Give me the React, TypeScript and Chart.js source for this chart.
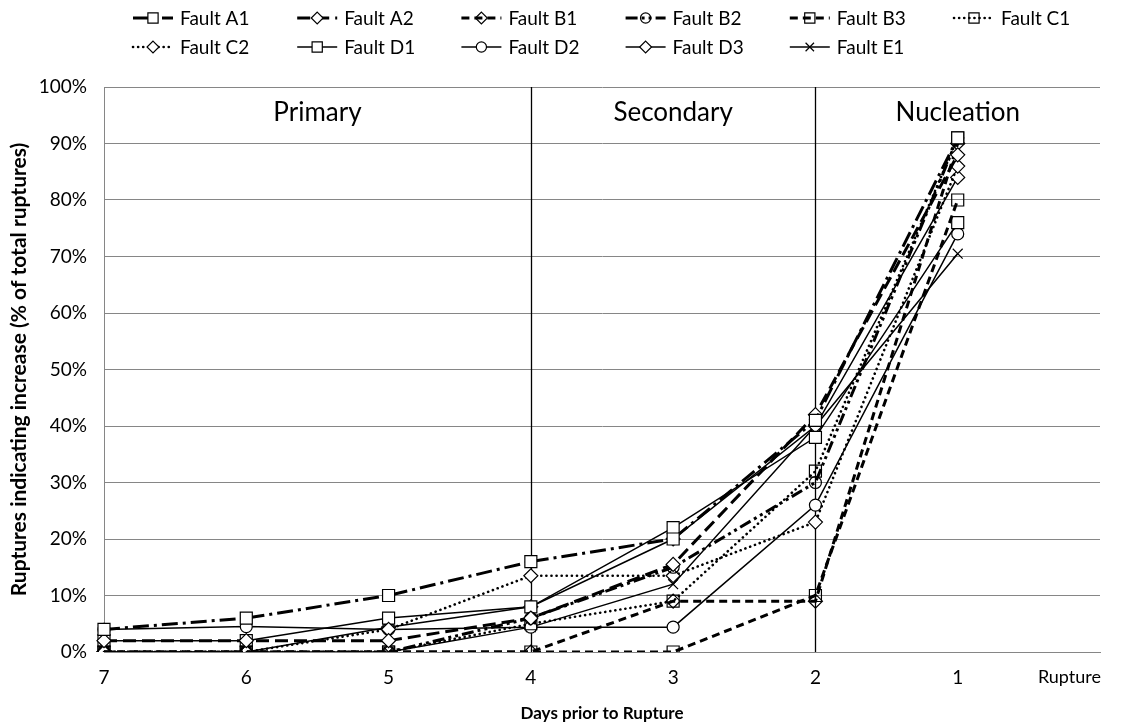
import React, { useEffect, useRef } from 'react';
import { Chart, registerables } from 'chart.js';

Chart.register(...registerables);

// ---------- data ----------
const CATEGORIES = ['7', '6', '5', '4', '3', '2', '1', 'Rupture'];
const SERIES_NAMES = [
  'Fault A1', 'Fault A2', 'Fault B1', 'Fault B2', 'Fault B3', 'Fault C1',
  'Fault C2', 'Fault D1', 'Fault D2', 'Fault D3', 'Fault E1',
];
const FAULT_A1 = [4, 6, 10, 16, 20, 41, 91, null];
const FAULT_A2 = [2, 2, 2, 6, 15.5, 42, 88, null];
const FAULT_B1 = [0, 0, 0, 0, 9, 9, 90, null];
const FAULT_B2 = [0, 0, 0, 6, 15, 30, 91, null];
const FAULT_B3 = [0, 0, 0, 0, 0, 10, 80, null];
const FAULT_C1 = [0, 0, 0, 5, 9, 32, 91, null];
const FAULT_C2 = [0, 0, 4, 13.5, 13.5, 23, 86, null];
const FAULT_D1 = [2, 2, 6, 8, 22, 38, 76, null];
const FAULT_D2 = [4, 4.5, 4, 4.4, 4.4, 26, 74, null];
const FAULT_D3 = [0, 0, 4.4, 8, 20, 40, 84, null];
const FAULT_E1 = [0, 0, 0, 4.4, 12, 40, 70.5, null];
const SERIES_VALUES = [
  FAULT_A1, FAULT_A2, FAULT_B1, FAULT_B2, FAULT_B3, FAULT_C1,
  FAULT_C2, FAULT_D1, FAULT_D2, FAULT_D3, FAULT_E1,
];
const Y_MIN = 0;
const Y_MAX = 100;
const Y_STEP = 10;
const PHASE_LABELS = ['Primary', 'Secondary', 'Nucleation'];
const PHASE_BOUNDARIES = ['4', '2'];
const X_TITLE = 'Days prior to Rupture';
const Y_TITLE = 'Ruptures indicating increase (% of total ruptures)';

// ---------- styles ----------
const FONT = "Lato, 'Noto Sans', sans-serif";
type Sty = { w: number; dash: number[]; pt: string; r: number; fill: string; cap?: CanvasLineCap };
const STYLES: Sty[] = [
  { w: 3, dash: [16, 5, 3, 5], pt: 'rect', r: 8.5, fill: '#fff' },
  { w: 3, dash: [13, 6], pt: 'rectRot', r: 7, fill: '#fff' },
  { w: 3, dash: [8, 5], pt: 'rectRot', r: 7, fill: 'rgba(0,0,0,0)' },
  { w: 3, dash: [12, 4, 3, 4, 3, 4], pt: 'circle', r: 6, fill: 'rgba(0,0,0,0)' },
  { w: 3, dash: [8, 5], pt: 'rect', r: 8.5, fill: 'rgba(0,0,0,0)' },
  { w: 2.6, dash: [0.1, 5], pt: 'rect', r: 8.5, fill: 'rgba(0,0,0,0)', cap: 'round' },
  { w: 2.6, dash: [0.1, 5], pt: 'rectRot', r: 7, fill: '#fff', cap: 'round' },
  { w: 1.5, dash: [], pt: 'rect', r: 8.5, fill: '#fff' },
  { w: 1.5, dash: [], pt: 'circle', r: 6, fill: '#fff' },
  { w: 1.5, dash: [], pt: 'rectRot', r: 7, fill: '#fff' },
  { w: 1.5, dash: [], pt: 'crossRot', r: 7, fill: '#fff' },
];

function drawMarker(ctx: CanvasRenderingContext2D, pt: string, x: number, y: number, r: number, fill: string) {
  ctx.save();
  ctx.setLineDash([]);
  ctx.lineWidth = 1.2;
  ctx.strokeStyle = '#000';
  ctx.fillStyle = fill;
  ctx.beginPath();
  if (pt === 'rect') {
    const s = r * Math.SQRT1_2;
    ctx.rect(x - s, y - s, 2 * s, 2 * s);
    ctx.fill();
    ctx.stroke();
  } else if (pt === 'rectRot') {
    ctx.moveTo(x, y - r);
    ctx.lineTo(x + r, y);
    ctx.lineTo(x, y + r);
    ctx.lineTo(x - r, y);
    ctx.closePath();
    ctx.fill();
    ctx.stroke();
  } else if (pt === 'circle') {
    ctx.arc(x, y, r, 0, Math.PI * 2);
    ctx.fill();
    ctx.stroke();
  } else {
    const s = r * Math.SQRT1_2;
    ctx.moveTo(x - s, y - s);
    ctx.lineTo(x + s, y + s);
    ctx.moveTo(x + s, y - s);
    ctx.lineTo(x - s, y + s);
    ctx.stroke();
  }
  ctx.restore();
}

const overlayPlugin = {
  id: 'overlay',
  beforeDatasetsDraw(chart: any) {
    const { ctx, chartArea: a, scales } = chart;
    const x = scales.x;
    ctx.save();
    ctx.strokeStyle = '#000';
    ctx.lineWidth = 1.3;
    PHASE_BOUNDARIES.forEach((c) => {
      const px = Math.round(x.getPixelForValue(CATEGORIES.indexOf(c))) + 0.5;
      ctx.beginPath();
      ctx.moveTo(px, a.top);
      ctx.lineTo(px, a.bottom);
      ctx.stroke();
    });
    ctx.restore();
  },
  afterDraw(chart: any) {
    const { ctx, chartArea: a, scales } = chart;
    const x = scales.x;
    ctx.save();
    ctx.fillStyle = '#000';
    // phase labels
    const bounds = [a.left, ...PHASE_BOUNDARIES.map((c) => x.getPixelForValue(CATEGORIES.indexOf(c))), a.right];
    ctx.font = `26px ${FONT}`;
    ctx.textAlign = 'center';
    ctx.textBaseline = 'middle';
    PHASE_LABELS.forEach((t, i) => {
      ctx.fillText(t, (bounds[i] + bounds[i + 1]) / 2, a.top + 26);
    });
    // last category label
    ctx.font = `18px ${FONT}`;
    ctx.textAlign = 'right';
    ctx.textBaseline = 'middle';
    ctx.fillText(CATEGORIES[CATEGORIES.length - 1], a.right + 1, a.bottom + 25);
    // axis titles
    ctx.font = `bold 17px ${FONT}`;
    ctx.textAlign = 'center';
    ctx.fillText(X_TITLE, (a.left + a.right) / 2, 714);
    ctx.save();
    ctx.font = `bold 21px ${FONT}`;
    ctx.translate(19, (a.top + a.bottom) / 2);
    ctx.rotate(-Math.PI / 2);
    ctx.fillText(Y_TITLE, 0, 0);
    ctx.restore();
    // legend
    ctx.font = `19px ${FONT}`;
    ctx.textAlign = 'left';
    ctx.textBaseline = 'middle';
    SERIES_NAMES.forEach((name, i) => {
      const row = i < 6 ? 0 : 1;
      const col = i < 6 ? i : i - 6;
      const ly = row === 0 ? 18 : 47;
      const tx = 180 + col * 164.2;
      const st = STYLES[i];
      ctx.save();
      ctx.strokeStyle = '#000';
      ctx.lineWidth = st.w;
      ctx.setLineDash(st.dash);
      ctx.lineCap = st.cap || 'butt';
      ctx.beginPath();
      ctx.moveTo(tx - 47, ly);
      ctx.lineTo(tx - 7, ly);
      ctx.stroke();
      ctx.restore();
      drawMarker(ctx, st.pt, tx - 27, ly, st.r * 0.85, st.fill === '#fff' ? '#fff' : 'rgba(0,0,0,0)');
      ctx.fillStyle = '#000';
      ctx.fillText(name, tx, ly + 1);
    });
    ctx.restore();
  },
};

export default function App() {
  const ref = useRef<HTMLCanvasElement | null>(null);
  useEffect(() => {
    if (!ref.current) return;
    const datasets = SERIES_NAMES.map((name, i) => {
      const st = STYLES[i];
      return {
        label: name,
        data: SERIES_VALUES[i],
        borderColor: '#000',
        backgroundColor: '#000',
        borderWidth: st.w,
        borderDash: st.dash,
        borderCapStyle: st.cap || 'butt',
        pointStyle: st.pt,
        pointRadius: st.r,
        pointHoverRadius: st.r,
        pointBackgroundColor: st.fill,
        pointBorderColor: '#000',
        pointBorderWidth: 1.2,
        tension: 0,
        fill: false,
        spanGaps: false,
      };
    });
    const chart = new Chart(ref.current, {
      type: 'line',
      data: { labels: CATEGORIES, datasets },
      options: {
        animation: false,
        responsive: true,
        maintainAspectRatio: false,
        layout: { padding: { left: 0, top: 87, right: 40, bottom: 0 } },
        plugins: { legend: { display: false }, tooltip: { enabled: false }, title: { display: false } },
        scales: {
          x: {
            type: 'category',
            offset: false,
            grid: { display: false, drawTicks: false },
            border: { display: true, color: '#868686', width: 1 },
            ticks: {
              color: '#000',
              font: { family: FONT, size: 19 },
              padding: 14,
              maxRotation: 0,
              autoSkip: false,
              callback: (v: any, idx: number) => (idx === CATEGORIES.length - 1 ? '' : CATEGORIES[idx]),
            },
            afterFit: (s: any) => { s.height = 75; },
          },
          y: {
            min: Y_MIN,
            max: Y_MAX,
            grid: { color: '#868686', lineWidth: 1, drawTicks: false },
            border: { display: true, color: '#868686', width: 1 },
            ticks: {
              stepSize: Y_STEP,
              color: '#000',
              font: { family: FONT, size: 19 },
              padding: 17,
              callback: (v: any) => `${v}%`,
            },
            afterFit: (s: any) => { s.width = 104; },
          },
        },
      },
      plugins: [overlayPlugin],
    });
    return () => chart.destroy();
  }, []);
  return (
    <div style={{ position: 'absolute', left: 0, top: 0, width: 1140, height: 727, background: '#fff' }}>
      <canvas ref={ref} />
    </div>
  );
}
